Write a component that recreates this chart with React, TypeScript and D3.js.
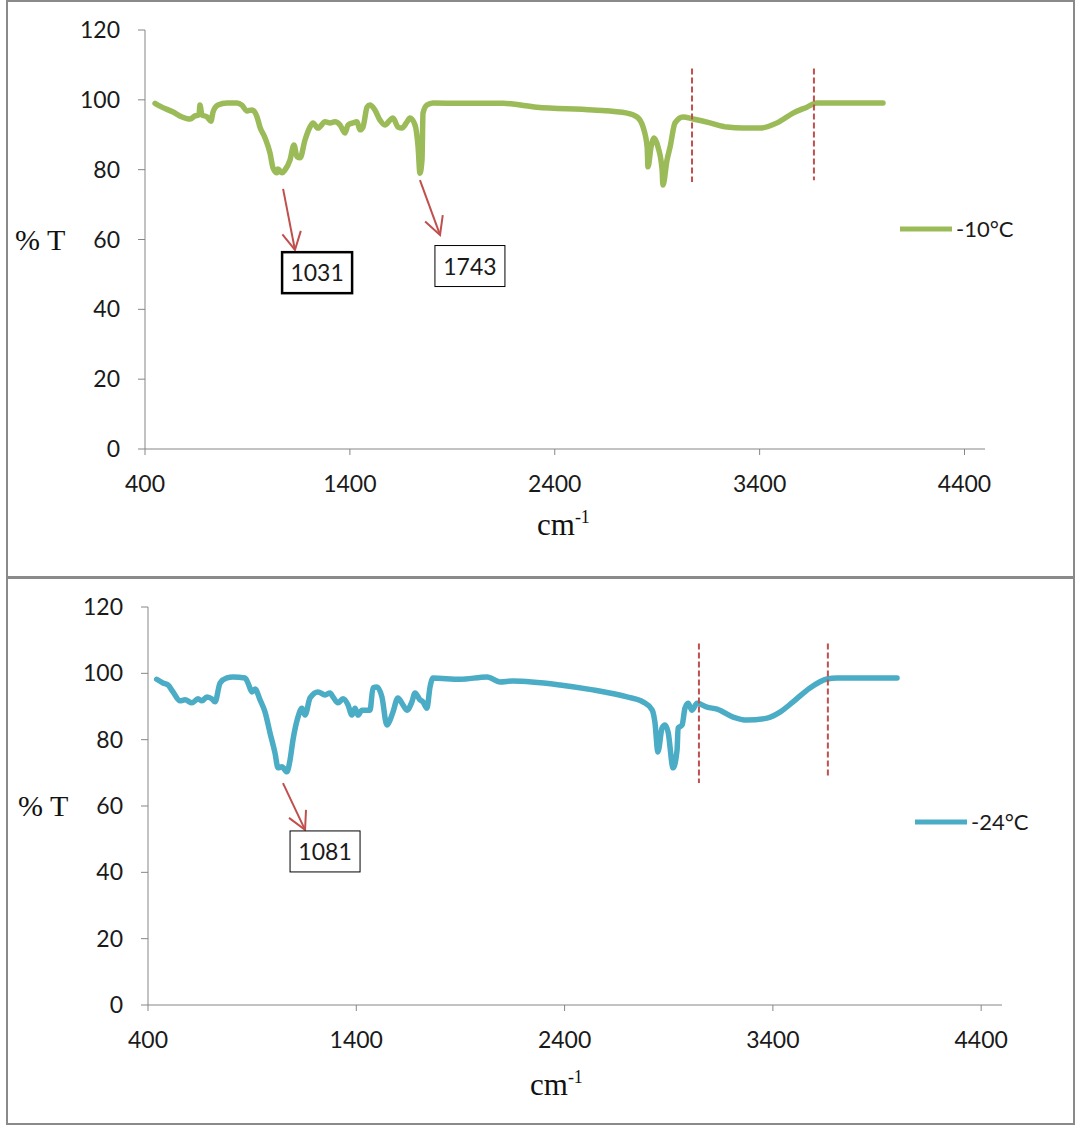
import React from "react";
import * as d3 from "d3";

// ---------- data ----------
const xTicks = [400, 1400, 2400, 3400, 4400];
const yTicks = [0, 20, 40, 60, 80, 100, 120];
const seriesNames = ["-10°C", "-24°C"];

const wavenumber10 = [
  449, 473, 537, 581, 620, 644, 664, 668, 678, 703, 722, 732, 756, 800, 849, 873, 898, 922, 947, 961,
  986, 1010, 1025, 1044, 1049, 1069, 1083, 1108, 1127, 1142, 1157, 1181, 1205, 1220, 1244, 1279, 1303,
  1327, 1352, 1376, 1391, 1415, 1435, 1449, 1464, 1484, 1498, 1522, 1547, 1571, 1596, 1610, 1635, 1654,
  1679, 1693, 1718, 1733, 1742, 1752, 1757, 1776, 1806, 1937, 2147, 2313, 2587, 2753, 2802, 2831, 2851,
  2855, 2870, 2885, 2904, 2924, 2928, 2948, 2963, 2987, 3026, 3075, 3158, 3241, 3319, 3402, 3485, 3563,
  3631, 3680, 3729, 4002,
];
const transmittance10 = [
  99.0, 98.2, 96.5, 95.1, 94.5, 95.4, 95.7, 98.5, 95.7, 95.1, 93.9, 96.5, 98.5, 99.1, 99.1, 98.5, 96.8,
  97.1, 95.1, 92.2, 89.1, 84.8, 80.5, 79.1, 80.2, 79.1, 79.9, 82.8, 87.1, 83.7, 83.4, 88.5, 92.2, 93.4,
  91.9, 93.7, 93.4, 93.7, 92.8, 90.5, 92.8, 93.4, 93.7, 91.4, 92.2, 97.9, 98.5, 97.1, 94.2, 92.8, 94.2,
  94.8, 92.2, 91.9, 93.7, 94.8, 92.8, 86.5, 79.0, 82.8, 96.2, 98.5, 99.1, 99.0, 99.0, 97.9, 97.1, 96.2,
  95.1, 92.2, 86.5, 80.8, 86.5, 89.1, 86.5, 79.9, 75.6, 82.8, 86.5, 93.4, 95.1, 94.5, 93.4, 92.2, 91.9,
  91.9, 93.4, 96.2, 97.9, 99.1, 99.1, 99.1,
];

const wavenumber24 = [
  442, 472, 496, 520, 554, 578, 611, 640, 659, 683, 707, 722, 746, 779, 808, 866, 880, 899, 914, 938,
  962, 986, 1010, 1024, 1043, 1067, 1082, 1096, 1120, 1139, 1154, 1178, 1216, 1250, 1274, 1288, 1312,
  1336, 1360, 1379, 1394, 1408, 1427, 1466, 1480, 1499, 1523, 1547, 1562, 1576, 1600, 1624, 1643, 1667,
  1682, 1706, 1720, 1739, 1754, 1768, 1898, 2028, 2090, 2152, 2378, 2536, 2700, 2776, 2820, 2834, 2848,
  2868, 2882, 2897, 2921, 2940, 2945, 2964, 2978, 2993, 3012, 3036, 3084, 3132, 3209, 3276, 3372, 3434,
  3497, 3578, 3660, 3708, 3996,
];
const transmittance24 = [
  98.2, 97.1, 96.5, 94.4, 91.7, 92.0, 91.1, 92.3, 91.7, 92.9, 92.3, 91.4, 97.1, 98.6, 98.9, 98.6, 97.1,
  94.4, 95.3, 92.0, 88.3, 82.0, 75.9, 71.5, 71.8, 70.3, 73.9, 79.9, 86.8, 89.5, 87.4, 92.6, 94.4, 93.5,
  94.1, 92.9, 91.1, 92.3, 90.5, 87.4, 89.5, 87.4, 88.9, 88.9, 95.6, 95.9, 92.9, 84.4, 85.9, 88.3, 92.6,
  90.5, 88.9, 91.4, 94.1, 92.0, 91.4, 89.5, 95.9, 98.6, 98.2, 98.9, 97.4, 97.7, 96.5, 95.0, 92.9, 91.4,
  89.0, 85.1, 76.3, 83.5, 84.4, 82.3, 71.5, 76.9, 83.5, 84.4, 89.5, 91.0, 88.9, 91.0, 89.8, 89.2, 86.8,
  85.9, 86.5, 88.3, 91.4, 95.6, 98.3, 98.6, 98.6,
];

const peakLabels10 = [1031, 1743];
const peakLabels24 = [1081];
const bandEdges10 = [3070, 3665];
const bandEdges24 = [3045, 3664];

// ---------- layout ----------
const SANS = "Lato, 'Liberation Sans', Arial, sans-serif";
const SERIF = "'Liberation Serif', 'Times New Roman', serif";
const AXIS = "#868686";
const RED = "#C0504D";

type Anno = { from: [number, number]; to: [number, number]; box: [number, number]; thick: boolean };

const topLayout = {
  frame: { x: 7, y: 1, w: 1067, h: 576 },
  x0: 145, x1: 985, yTop: 30, yBottom: 449,
  legendX: 900, legendY: 229,
  yTitle: { x: 15, y: 250 },
  xTitle: { x: 537, y: 535 },
  dashTop: 109, dashBottoms: [76.5, 77],
  annos: [
    { from: [1074, 74.5], to: [1132, 57.0], box: [1240, 50.5], thick: true },
    { from: [1742, 77.0], to: [1840, 61.3], box: [1986, 52.4], thick: false },
  ] as Anno[],
};
const bottomLayout = {
  frame: { x: 7, y: 578, w: 1067, h: 546 },
  x0: 148, x1: 1002, yTop: 607, yBottom: 1005,
  legendX: 915, legendY: 822,
  yTitle: { x: 18, y: 816 },
  xTitle: { x: 530, y: 1095 },
  dashTop: 109, dashBottoms: [66.9, 68.4],
  annos: [{ from: [1048, 66.9], to: [1154, 52.8], box: [1250, 46.3], thick: false }] as Anno[],
};

function Panel(props: {
  wn: number[];
  tr: number[];
  name: string;
  color: string;
  peaks: number[];
  edges: number[];
  L: typeof topLayout;
}) {
  const { wn, tr, name, color, peaks, edges, L } = props;
  const x = d3.scaleLinear().domain([400, 4500]).range([L.x0, L.x1]);
  const y = d3.scaleLinear().domain([0, 120]).range([L.yBottom, L.yTop]);
  const pts: [number, number][] = wn.map((w, i) => [w, tr[i]]);
  const line = d3
    .line<[number, number]>()
    .x((d) => x(d[0]))
    .y((d) => y(d[1]))
    .curve(d3.curveMonotoneX);

  return (
    <g>
      <rect x={L.frame.x} y={L.frame.y} width={L.frame.w} height={L.frame.h} fill="white" stroke="#8a8a8a" strokeWidth={2} />
      {/* y axis */}
      <line x1={L.x0} x2={L.x0} y1={y(120)} y2={y(0)} stroke={AXIS} strokeWidth={1} />
      {yTicks.map((t) => (
        <g key={"y" + t}>
          <line x1={L.x0 - 7} x2={L.x0} y1={y(t)} y2={y(t)} stroke={AXIS} />
          <text x={L.x0 - 25} y={y(t) + 8} textAnchor="end" fontFamily={SANS} fontSize={23} fill="#1a1a1a">
            {t}
          </text>
        </g>
      ))}
      {/* x axis */}
      <line x1={x(400)} x2={x(4500)} y1={y(0)} y2={y(0)} stroke={AXIS} strokeWidth={1} />
      {xTicks.map((t) => (
        <g key={"x" + t}>
          <line x1={x(t)} x2={x(t)} y1={y(0)} y2={y(0) + 6} stroke={AXIS} />
          <text x={x(t)} y={y(0) + 43} textAnchor="middle" fontFamily={SANS} fontSize={23} fill="#1a1a1a">
            {t}
          </text>
        </g>
      ))}
      {/* titles */}
      <text x={L.yTitle.x} y={L.yTitle.y} fontFamily={SERIF} fontSize={30} fill="#111">
        % T
      </text>
      <text x={L.xTitle.x} y={L.xTitle.y} fontFamily={SERIF} fontSize={31} fill="#111">
        cm
        <tspan dy={-12} fontSize={18}>
          -1
        </tspan>
      </text>
      {/* series */}
      <path d={line(pts) || ""} fill="none" stroke={color} strokeWidth={5.5} strokeLinejoin="round" strokeLinecap="round" />
      {/* dashed band edges */}
      {edges.map((e, i) => (
        <line
          key={"e" + i}
          x1={x(e)}
          x2={x(e)}
          y1={y(L.dashTop)}
          y2={y(L.dashBottoms[i])}
          stroke={RED}
          strokeWidth={2}
          strokeDasharray="6 3"
        />
      ))}
      {/* annotations */}
      {L.annos.map((a, i) => {
        const fx = x(a.from[0]), fy = y(a.from[1]);
        const tx = x(a.to[0]), ty = y(a.to[1]);
        const len = Math.hypot(tx - fx, ty - fy);
        const ux = (fx - tx) / len, uy = (fy - ty) / len;
        const ang = (28 * Math.PI) / 180;
        const w = (s: number) => {
          const c = Math.cos(s * ang), sn = Math.sin(s * ang);
          return [tx + 20 * (ux * c - uy * sn), ty + 20 * (ux * sn + uy * c)];
        };
        const w1 = w(1), w2 = w(-1);
        const bx = x(a.box[0]), by = y(a.box[1]);
        return (
          <g key={"a" + i}>
            <line x1={fx} y1={fy} x2={tx} y2={ty} stroke={RED} strokeWidth={2} />
            <polyline points={`${w1[0]},${w1[1]} ${tx},${ty} ${w2[0]},${w2[1]}`} fill="none" stroke={RED} strokeWidth={2} />
            <rect x={bx - 35} y={by - 20.5} width={70} height={41} fill="white" stroke="#000" strokeWidth={a.thick ? 2.5 : 1} />
            <text x={bx} y={by + 8.5} textAnchor="middle" fontFamily={SANS} fontSize={23} fill="#1a1a1a">
              {peaks[i]}
            </text>
          </g>
        );
      })}
      {/* legend */}
      <line x1={L.legendX} x2={L.legendX + 52} y1={L.legendY} y2={L.legendY} stroke={color} strokeWidth={5} />
      <text x={L.legendX + 56} y={L.legendY + 8} fontFamily={SANS} fontSize={22} fill="#1a1a1a">
        {name}
      </text>
    </g>
  );
}

export default function App() {
  return (
    <svg
      width={1076}
      height={1126}
      viewBox="0 0 1076 1126"
      style={{ position: "absolute", left: 0, top: 0, background: "white" }}
    >
      <Panel wn={wavenumber10} tr={transmittance10} name={seriesNames[0]} color="#9BBB59" peaks={peakLabels10} edges={bandEdges10} L={topLayout} />
      <Panel wn={wavenumber24} tr={transmittance24} name={seriesNames[1]} color="#4BACC6" peaks={peakLabels24} edges={bandEdges24} L={bottomLayout} />
    </svg>
  );
}
